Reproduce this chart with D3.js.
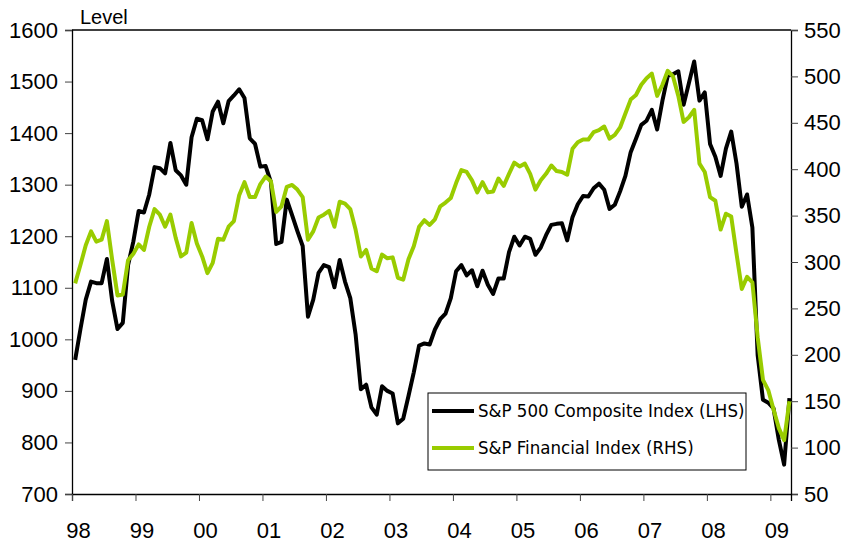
<!DOCTYPE html>
<html>
<head>
<meta charset="utf-8">
<script src="https://cdn.jsdelivr.net/npm/d3@7"></script>
<style>
  body { margin: 0; background: #fff; }
  svg { display: block; }
  .tick text { font-family: "Liberation Sans", Arial, sans-serif; }
</style>
</head>
<body>
<svg id="chart" width="848" height="545"></svg>
<script>
// tick labels for the years (Jan of each year)
const years = ['98', '99', '00', '01', '02', '03', '04', '05', '06', '07', '08', '09'];
const leftTicks = [700, 800, 900, 1000, 1100, 1200, 1300, 1400, 1500, 1600];
const rightTicks = [50, 100, 150, 200, 250, 300, 350, 400, 450, 500, 550];

// monthly values, Jan 1998 .. Apr 2009
const sp500 = [
  960, 1020, 1077, 1112, 1109, 1109, 1156, 1074, 1020, 1032, 1144, 1190,
  1249, 1246, 1281, 1334, 1332, 1322, 1381, 1328, 1318, 1300, 1392, 1428,
  1425, 1388, 1442, 1461, 1419, 1462, 1473, 1485, 1468, 1390, 1379, 1335,
  1336, 1305, 1185, 1189, 1271, 1241, 1210, 1181, 1044, 1077, 1129, 1144,
  1140, 1101, 1154, 1112, 1080, 1010, 903, 912, 868, 854, 909, 900,
  895, 837, 846, 890, 936, 988, 992, 990, 1019, 1039, 1050, 1080,
  1132, 1144, 1124, 1134, 1103, 1133, 1106, 1088, 1118, 1118, 1169, 1199,
  1182, 1199, 1195, 1164, 1178, 1202, 1222, 1224, 1225, 1192, 1237, 1262,
  1278, 1277, 1293, 1302, 1290, 1253, 1261, 1287, 1317, 1363, 1389, 1416,
  1424, 1445, 1407, 1463, 1511, 1514, 1520, 1455, 1497, 1539, 1463, 1479,
  1379, 1354, 1317, 1370, 1403, 1341, 1257, 1281, 1217, 969, 883, 877,
  866, 805, 757, 886
];
const financials = [
  277, 297, 318, 333, 322, 324, 344, 302, 264, 265, 302, 309,
  319, 313, 338, 357, 351, 338, 351, 326, 306, 310, 342, 320,
  306, 288, 299, 325, 324, 338, 344, 372, 386, 370, 370, 384,
  392, 387, 354, 360, 381, 383, 378, 370, 324, 333, 348, 351,
  355, 338, 365, 363, 357, 335, 306, 313, 293, 290, 308, 304,
  305, 283, 281, 303, 317, 338, 345, 340, 346, 360, 364, 369,
  385, 399, 397, 388, 375, 386, 375, 376, 390, 382, 395, 407,
  403, 406, 395, 378, 388, 395, 404, 398, 397, 394, 422, 429,
  432, 432, 440, 442, 446, 433, 437, 445, 460, 475, 480, 491,
  498, 503, 479, 491, 506, 500, 479, 451, 456, 464, 406, 397,
  370, 366, 335, 352, 349, 309, 271, 284, 278, 219, 173, 162,
  141, 121, 108, 150
];
const seriesNames = ['S&P 500 Composite Index (LHS)', 'S&P Financial Index (RHS)'];
const colors = ['#000000', '#99cc00'];

const svg = d3.select('#chart');
const plotLeft = 72, plotRight = 791, plotTop = 30, plotBottom = 494;

// x is month index, year ticks sit between Dec and Jan
const x = d3.scaleLinear().domain([-0.6, 135.3]).range([plotLeft, plotRight]);
const yL = d3.scaleLinear().domain([700, 1600]).range([plotBottom, plotTop]);
const yR = d3.scaleLinear().domain([50, 550]).range([plotBottom, plotTop]);

// frame top line
svg.append('line')
  .attr('x1', plotLeft).attr('x2', plotRight)
  .attr('y1', plotTop).attr('y2', plotTop)
  .attr('stroke', '#000').attr('stroke-width', 1.3);

// left axis
svg.append('g')
  .attr('transform', `translate(${plotLeft},0)`)
  .call(d3.axisLeft(yL).tickValues(leftTicks).tickFormat(d3.format('d')).tickSize(7).tickPadding(7))
  .call(g => g.selectAll('text').attr('font-size', 22).attr('fill', '#000'));

// right axis
svg.append('g')
  .attr('transform', `translate(${plotRight},0)`)
  .call(d3.axisRight(yR).tickValues(rightTicks).tickFormat(d3.format('d')).tickSize(7).tickPadding(6))
  .call(g => g.selectAll('text').attr('font-size', 22).attr('fill', '#000'));

// bottom axis
svg.append('g')
  .attr('transform', `translate(0,${plotBottom})`)
  .call(d3.axisBottom(x)
    .tickValues(years.map((d, i) => i * 12 - 0.6))
    .tickFormat((d, i) => years[i])
    .tickSize(7).tickPadding(21))
  .call(g => g.selectAll('text').attr('font-size', 22).attr('fill', '#000').attr('dx', 6));

svg.selectAll('.domain').attr('stroke', '#000').attr('stroke-width', 1.3);
svg.selectAll('.tick line').attr('stroke', '#444');

// "Level" label
svg.append('text')
  .attr('x', 80).attr('y', 24)
  .attr('font-family', '"Liberation Sans", Arial, sans-serif')
  .attr('font-size', 20)
  .text('Level');

// lines
const lineL = d3.line().x((d, i) => x(i)).y(d => yL(d));
const lineR = d3.line().x((d, i) => x(i)).y(d => yR(d));

svg.append('path')
  .datum(sp500)
  .attr('d', lineL)
  .attr('fill', 'none')
  .attr('stroke', colors[0])
  .attr('stroke-width', 4)
  .attr('stroke-linejoin', 'round');

svg.append('path')
  .datum(financials)
  .attr('d', lineR)
  .attr('fill', 'none')
  .attr('stroke', colors[1])
  .attr('stroke-width', 4)
  .attr('stroke-linejoin', 'round');

// legend
const legend = svg.append('g').attr('transform', 'translate(428,393)');
legend.append('rect')
  .attr('width', 318).attr('height', 77)
  .attr('fill', '#fff').attr('stroke', '#000').attr('stroke-width', 1);

seriesNames.forEach((name, i) => {
  const gy = 18 + i * 37;
  legend.append('line')
    .attr('x1', 4).attr('x2', 46)
    .attr('y1', gy).attr('y2', gy)
    .attr('stroke', colors[i]).attr('stroke-width', 4);
  legend.append('text')
    .attr('x', 50).attr('y', gy + 6)
    .attr('font-family', '"DejaVu Sans", Verdana, sans-serif')
    .attr('font-stretch', 'condensed')
    .attr('font-size', 18.5)
    .text(name);
});
</script>
</body>
</html>
